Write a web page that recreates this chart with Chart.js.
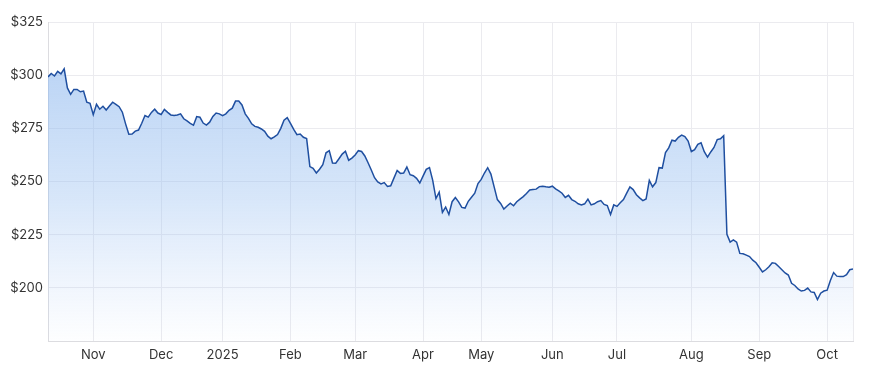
<!DOCTYPE html>
<html>
<head>
<meta charset="utf-8">
<script src="https://cdn.jsdelivr.net/npm/chart.js@4"></script>
<style>
  html, body { margin: 0; padding: 0; background: #fff; }
  #wrap { width: 873px; height: 376px; }
</style>
</head>
<body>
<div id="wrap"><canvas id="priceChart"></canvas></div>
<script>
// closing prices, one per trading day, mid Oct 2024 -> mid Oct 2025
const prices = [
  299.2, 300.8, 299.6, 301.8, 300.6, 303.0, 294.0, 291.0, 293.3, 293.3,
  292.2, 292.5, 287.3, 286.8, 281.4, 286.3, 284.0, 285.4, 283.6, 285.5,
  287.3, 286.3, 285.2, 282.6, 277.1, 272.2, 272.3, 273.7, 274.2, 277.4,
  281.0, 280.3, 282.5, 284.0, 282.2, 281.5, 283.9, 282.5, 281.3, 281.0,
  281.3, 281.8, 279.5, 278.5, 277.3, 276.5, 280.5, 280.2, 277.5, 276.5,
  277.9, 280.6, 282.2, 281.8, 281.0, 281.8, 283.5, 284.5, 287.8, 287.8,
  286.0, 281.8, 279.7, 277.1, 275.9, 275.5, 274.7, 273.6, 271.3, 270.1,
  271.0, 272.1, 275.0, 278.8, 280.0, 277.3, 274.5, 272.0, 272.3, 270.8,
  270.2, 257.0, 256.2, 254.0, 255.8, 257.9, 263.5, 264.5, 258.7, 258.6,
  260.7, 262.9, 264.2, 260.0, 261.0, 262.5, 264.5, 264.1, 262.0, 258.8,
  255.4, 251.8, 249.8, 248.9, 249.5, 247.7, 248.0, 251.6, 255.2, 253.8,
  254.0, 256.8, 253.2, 252.7, 251.5, 249.3, 252.5, 255.7, 256.5, 250.5,
  242.0, 245.0, 235.5, 238.0, 234.5, 240.5, 242.5, 240.4, 237.8, 237.5,
  240.7, 242.6, 244.5, 249.0, 251.0, 254.0, 256.5, 253.5, 247.5, 241.5,
  239.7, 237.0, 238.5, 239.8, 238.6, 240.5, 241.7, 242.9, 244.4, 246.0,
  246.2, 246.4, 247.6, 247.8, 247.5, 247.3, 247.8, 246.5, 245.6, 244.5,
  242.5, 243.5, 241.5, 240.7, 239.5, 239.0, 239.5, 241.7, 239.0, 239.5,
  240.5, 241.0, 239.2, 238.7, 234.5, 239.0, 238.3, 240.0, 241.5, 244.5,
  247.5, 246.2, 243.8, 242.3, 241.0, 241.8, 250.5, 247.5, 249.5, 256.5,
  256.3, 263.6, 265.8, 269.4, 269.0, 270.8, 271.8, 271.1, 269.0, 264.1,
  265.0, 267.5, 268.2, 264.0, 261.5, 263.9, 266.0, 269.7, 270.1, 271.5,
  225.2, 221.5, 222.5, 221.5, 216.2, 216.0, 215.4, 214.7, 213.0, 211.8,
  209.7, 207.5, 208.5, 209.9, 211.8, 211.5, 210.0, 208.5, 207.0, 206.0,
  202.1, 201.1, 199.5, 198.5, 198.8, 199.9, 198.1, 197.8, 194.5, 197.5,
  198.5, 198.9, 203.5, 207.2, 205.5, 205.3, 205.3, 206.2, 208.5, 208.9
];

// first trading day of each labelled month (index into prices)
const monthLabels = ['Nov', 'Dec', '2025', 'Feb', 'Mar', 'Apr', 'May', 'Jun', 'Jul', 'Aug', 'Sep', 'Oct'];
const monthStarts = [14, 35, 54, 75, 95, 116, 134, 156, 176, 199, 220, 241];

const yTicks = [175, 200, 225, 250, 275, 300, 325];

const lastIdx = prices.length - 1;
const tickText = {};
monthStarts.forEach((idx, i) => { tickText[idx] = monthLabels[i]; });

const fontFamily = 'Inter, "Noto Sans", sans-serif';
const textColor = '#333';
const gridColor = '#ebebef';

function areaFill(context) {
  const { ctx, chartArea } = context.chart;
  if (!chartArea) return 'rgba(147,187,240,0.4)';
  const g = ctx.createLinearGradient(0, chartArea.top, 0, chartArea.bottom);
  g.addColorStop(0, 'rgba(140,182,238,0.68)');
  g.addColorStop(0.55, 'rgba(150,190,240,0.38)');
  g.addColorStop(1, 'rgba(170,200,245,0.02)');
  return g;
}

new Chart(document.getElementById('priceChart'), {
  type: 'line',
  data: {
    datasets: [{
      data: prices.map((p, i) => ({ x: i, y: p })),
      borderColor: '#1f4fa0',
      borderWidth: 1.5,
      backgroundColor: areaFill,
      fill: 'start',
      pointRadius: 0,
      tension: 0
    }]
  },
  options: {
    responsive: true,
    maintainAspectRatio: false,
    animation: false,
    layout: { padding: { top: 22, right: 20, left: 10, bottom: 0 } },
    plugins: { legend: { display: false }, tooltip: { enabled: false } },
    scales: {
      x: {
        type: 'linear',
        min: 0,
        max: lastIdx,
        afterBuildTicks: scale => {
          scale.ticks = monthStarts.concat([lastIdx]).map(v => ({ value: v }));
        },
        afterFit: scale => { scale.height = 35; },
        ticks: {
          autoSkip: false,
          maxRotation: 0,
          padding: 6,
          color: textColor,
          font: { family: fontFamily, size: 13 },
          callback: v => tickText[v] || ''
        },
        grid: { color: gridColor, drawTicks: false },
        border: { color: '#dcdce0' }
      },
      y: {
        min: 175,
        max: 325,
        afterBuildTicks: scale => {
          scale.ticks = yTicks.map(v => ({ value: v }));
        },
        afterFit: scale => { scale.width = 38; },
        ticks: {
          padding: 5,
          color: textColor,
          font: { family: fontFamily, size: 13 },
          callback: v => (v === 175 ? '' : '$' + v)
        },
        grid: { color: gridColor, drawTicks: false },
        border: { color: '#dcdce0' }
      }
    }
  }
});
</script>
</body>
</html>
